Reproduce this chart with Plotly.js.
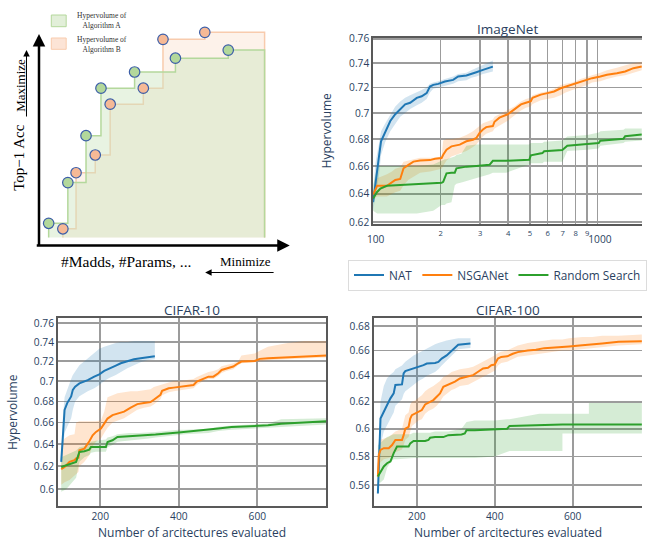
<!DOCTYPE html>
<html><head><meta charset="utf-8">
<script src="https://cdn.plot.ly/plotly-3.0.1.min.js"></script>
<style>html,body{margin:0;padding:0;background:#fff}#chart{width:647px;height:541px}</style>
</head><body><div id="chart"></div>
<script>
// ================= DATA =================
const methodNames = ['NAT', 'NSGANet', 'Random Search'];

// ---- ImageNet (log x, log y) ----
const imgNatX  = [100, 102.4, 106, 108.5, 113.4, 119.3, 125.6, 132.1, 139, 146.3, 156.6, 164.7, 173.3, 179.3, 185.5, 195.3, 209, 227.5, 239.4, 260.6, 274.2, 288.6, 308.9, 325, 342];
const imgNatY  = [0.634, 0.6485, 0.6657, 0.6783, 0.686, 0.6938, 0.699, 0.7028, 0.7067, 0.708, 0.7118, 0.7131, 0.7156, 0.7208, 0.7222, 0.723, 0.7249, 0.7262, 0.7289, 0.7297, 0.7308, 0.7324, 0.7343, 0.7357, 0.737];
const imgNatHi = [0.640, 0.662, 0.676, 0.686, 0.692, 0.699, 0.705, 0.709, 0.712, 0.714, 0.716, 0.718, 0.720, 0.723, 0.724, 0.725, 0.727, 0.729, 0.731, 0.732, 0.734, 0.736, 0.738, 0.740, 0.742];
const imgNatLo = [0.628, 0.638, 0.652, 0.668, 0.678, 0.686, 0.692, 0.697, 0.700, 0.703, 0.706, 0.708, 0.711, 0.716, 0.719, 0.720, 0.721, 0.723, 0.725, 0.726, 0.728, 0.729, 0.731, 0.732, 0.733];

const imgNsgaX  = [100, 104.2, 115.3, 121.4, 125.6, 132.1, 136.7, 143.8, 151.3, 162, 179.3, 188.7, 202, 205.4, 212.5, 223.6, 243.5, 260.6, 278.9, 288.6, 298.5, 308.9, 319.5, 342, 347.8, 365.9, 398.4, 426.5, 456.4, 480.2, 505.2, 513.8, 559.5, 598.8, 641, 686.1, 721.9, 772.7, 841.3, 900.2, 947.1, 1031, 1104, 1222, 1330, 1448, 1577];
const imgNsgaY  = [0.6393, 0.6456, 0.6456, 0.6485, 0.6498, 0.6505, 0.6583, 0.6608, 0.6632, 0.664, 0.6643, 0.6653, 0.6658, 0.6683, 0.672, 0.6745, 0.6758, 0.6783, 0.6795, 0.6808, 0.6847, 0.6873, 0.6891, 0.6899, 0.6932, 0.6964, 0.699, 0.7028, 0.7067, 0.708, 0.7092, 0.7118, 0.7144, 0.7156, 0.7169, 0.7195, 0.7208, 0.7222, 0.7249, 0.7262, 0.7276, 0.7289, 0.7303, 0.7316, 0.733, 0.7357, 0.737];
const imgNsgaHi = [0.641, 0.651, 0.654, 0.656, 0.658, 0.659, 0.663, 0.664, 0.665, 0.666, 0.666, 0.666, 0.667, 0.679, 0.680, 0.680, 0.681, 0.683, 0.686, 0.688, 0.690, 0.692, 0.693, 0.695, 0.697, 0.699, 0.702, 0.705, 0.709, 0.711, 0.712, 0.714, 0.716, 0.717, 0.719, 0.722, 0.723, 0.724, 0.727, 0.729, 0.730, 0.732, 0.734, 0.736, 0.738, 0.740, 0.741];
const imgNsgaLo = [0.636, 0.638, 0.638, 0.640, 0.641, 0.642, 0.646, 0.650, 0.652, 0.655, 0.656, 0.657, 0.658, 0.660, 0.664, 0.667, 0.669, 0.671, 0.674, 0.676, 0.679, 0.682, 0.684, 0.686, 0.688, 0.690, 0.694, 0.698, 0.702, 0.704, 0.705, 0.707, 0.710, 0.711, 0.712, 0.714, 0.716, 0.718, 0.720, 0.722, 0.724, 0.725, 0.727, 0.729, 0.730, 0.732, 0.734];

const imgRsX  = [100, 104.2, 107.8, 115.3, 132.1, 156.6, 185.5, 202, 205.4, 208.9, 212.5, 223.6, 231.3, 235.3, 247.6, 260.6, 288.6, 319.5, 330.5, 342, 391.6, 496.8, 505.2, 569.1, 578.9, 697.9, 734.3, 900.2, 1013.7, 1031, 1307.6, 1330, 1577];
const imgRsY  = [0.6366, 0.6412, 0.6437, 0.6456, 0.6461, 0.6468, 0.6473, 0.6478, 0.6485, 0.6522, 0.6546, 0.6551, 0.6551, 0.6583, 0.659, 0.6595, 0.66, 0.6603, 0.6608, 0.6638, 0.6638, 0.6645, 0.6678, 0.6695, 0.6708, 0.6718, 0.675, 0.6763, 0.677, 0.6788, 0.6803, 0.6821, 0.6834];
const imgRsHi = [0.646, 0.659, 0.660, 0.660, 0.660, 0.660, 0.661, 0.664, 0.664, 0.665, 0.665, 0.666, 0.667, 0.668, 0.669, 0.675, 0.676, 0.676, 0.676, 0.676, 0.676, 0.676, 0.677, 0.677, 0.678, 0.679, 0.682, 0.683, 0.685, 0.686, 0.687, 0.688, 0.688];
const imgRsLo = [0.628, 0.626, 0.626, 0.626, 0.626, 0.626, 0.628, 0.632, 0.632, 0.632, 0.633, 0.634, 0.646, 0.647, 0.648, 0.649, 0.651, 0.653, 0.654, 0.655, 0.655, 0.661, 0.662, 0.662, 0.663, 0.663, 0.671, 0.672, 0.673, 0.675, 0.677, 0.678, 0.679];

// ---- CIFAR-10 (linear x, log y) ----
const c10NatX  = [100.6, 104.8, 109.1, 115.8, 121.7, 125.9, 130.1, 136, 146.9, 159.6, 168, 184.8, 197.5, 210.1, 222.7, 239.6, 252.2, 269, 285.9, 302.7, 319.6, 339];
const c10NatY  = [0.6239, 0.6511, 0.6718, 0.6784, 0.6816, 0.6848, 0.6913, 0.6945, 0.6977, 0.6994, 0.701, 0.7044, 0.7068, 0.7102, 0.7122, 0.7156, 0.718, 0.7204, 0.7221, 0.7232, 0.7242, 0.7253];
const c10NatHi = [0.625, 0.665, 0.684, 0.692, 0.697, 0.702, 0.706, 0.710, 0.716, 0.720, 0.723, 0.728, 0.733, 0.735, 0.737, 0.739, 0.740, 0.740, 0.741, 0.741, 0.741, 0.741];
const c10NatLo = [0.622, 0.638, 0.650, 0.656, 0.660, 0.664, 0.672, 0.680, 0.685, 0.688, 0.690, 0.693, 0.696, 0.700, 0.703, 0.706, 0.709, 0.713, 0.716, 0.719, 0.721, 0.722];

const c10NsgaX  = [100.6, 109.1, 121.7, 134.4, 138.5, 144.4, 146.9, 159.6, 172.2, 180.6, 189.1, 201.7, 210.1, 218.5, 231.2, 243.8, 260.6, 277.5, 294.3, 311.2, 328, 336.4, 353.3, 357.5, 374.3, 387, 403.8, 416.4, 429.1, 437.5, 445.8, 462.7, 475.4, 488, 500.6, 509, 521.6, 538.5, 551.2, 559.5, 593.3, 606, 627, 677.5, 719.7, 776.8];
const c10NsgaY  = [0.6174, 0.6194, 0.6239, 0.6254, 0.6269, 0.6275, 0.6343, 0.6358, 0.6425, 0.648, 0.6511, 0.6542, 0.6588, 0.6636, 0.6669, 0.6685, 0.6702, 0.6741, 0.6774, 0.6784, 0.6793, 0.6816, 0.6865, 0.6903, 0.6929, 0.6935, 0.6945, 0.6955, 0.6961, 0.6961, 0.6994, 0.7027, 0.7044, 0.7044, 0.7078, 0.7112, 0.7129, 0.7146, 0.718, 0.7197, 0.7204, 0.7225, 0.7232, 0.7239, 0.7249, 0.726];
const c10NsgaHi = [0.640, 0.645, 0.648, 0.649, 0.660, 0.661, 0.661, 0.661, 0.661, 0.661, 0.661, 0.662, 0.670, 0.684, 0.686, 0.688, 0.689, 0.690, 0.690, 0.691, 0.692, 0.694, 0.696, 0.697, 0.699, 0.700, 0.700, 0.701, 0.702, 0.702, 0.704, 0.707, 0.709, 0.710, 0.712, 0.715, 0.716, 0.718, 0.720, 0.726, 0.728, 0.731, 0.735, 0.739, 0.741, 0.741];
const c10NsgaLo = [0.604, 0.606, 0.608, 0.612, 0.614, 0.615, 0.620, 0.624, 0.630, 0.638, 0.642, 0.645, 0.650, 0.655, 0.660, 0.662, 0.664, 0.668, 0.672, 0.674, 0.675, 0.677, 0.682, 0.686, 0.689, 0.690, 0.691, 0.692, 0.693, 0.693, 0.696, 0.700, 0.702, 0.702, 0.705, 0.708, 0.710, 0.712, 0.716, 0.718, 0.719, 0.720, 0.721, 0.722, 0.723, 0.724];

const c10RsX  = [100.6, 113.3, 125.9, 138.5, 146.9, 159.6, 172.2, 176.4, 189.1, 214.3, 218.5, 231.2, 243.8, 273.3, 298.5, 323.8, 340.6, 399.6, 416.4, 475.4, 500.6, 534.3, 584.8, 627, 660.6, 776];
const c10RsY  = [0.6194, 0.6209, 0.623, 0.6239, 0.6328, 0.6334, 0.6349, 0.6372, 0.6372, 0.6372, 0.6418, 0.6434, 0.6465, 0.6471, 0.6474, 0.648, 0.6486, 0.6505, 0.6511, 0.6526, 0.6542, 0.6557, 0.6566, 0.6572, 0.6588, 0.661];
const c10RsHi = [0.628, 0.630, 0.632, 0.634, 0.637, 0.638, 0.640, 0.642, 0.643, 0.644, 0.646, 0.647, 0.649, 0.650, 0.650, 0.651, 0.651, 0.653, 0.653, 0.654, 0.656, 0.657, 0.658, 0.659, 0.663, 0.664];
const c10RsLo = [0.598, 0.600, 0.605, 0.610, 0.624, 0.628, 0.630, 0.632, 0.633, 0.633, 0.637, 0.639, 0.642, 0.643, 0.644, 0.645, 0.646, 0.648, 0.649, 0.650, 0.652, 0.653, 0.654, 0.655, 0.656, 0.658];

// ---- CIFAR-100 (linear x, log y) ----
const c100NatX  = [100, 102.4, 106.7, 115.2, 123.6, 132.2, 140.6, 144.9, 161.9, 166.1, 170.4, 178.9, 191.6, 204.3, 217.1, 225.6, 246.8, 255.3, 263.8, 276.5, 289.2, 302, 306.2, 337.7];
const c100NatY  = [0.5544, 0.5788, 0.6075, 0.6125, 0.6175, 0.6226, 0.6264, 0.6328, 0.6333, 0.6418, 0.6436, 0.6444, 0.6457, 0.647, 0.6483, 0.6496, 0.6501, 0.6509, 0.6535, 0.6561, 0.66, 0.6642, 0.6647, 0.6656];
const c100NatHi = [0.556, 0.590, 0.620, 0.632, 0.638, 0.641, 0.643, 0.645, 0.648, 0.650, 0.651, 0.653, 0.656, 0.658, 0.660, 0.662, 0.665, 0.666, 0.667, 0.668, 0.669, 0.670, 0.670, 0.670];
const c100NatLo = [0.553, 0.568, 0.588, 0.598, 0.603, 0.608, 0.612, 0.617, 0.622, 0.626, 0.628, 0.630, 0.633, 0.636, 0.638, 0.640, 0.643, 0.645, 0.648, 0.652, 0.656, 0.660, 0.661, 0.662];

const c100NsgaX  = [100, 102.4, 106.7, 115.2, 127.9, 136.4, 144.9, 161.9, 166.1, 170.4, 178.9, 183.1, 187.3, 195.8, 204.3, 212.8, 221.3, 229.8, 242.5, 251, 259.5, 268, 280.8, 289.2, 297.8, 310.5, 331.7, 344.5, 357.2, 369.9, 382.7, 391.2, 399.7, 408.2, 416.6, 431.9, 446.4, 459.1, 484.6, 505.8, 527, 548.3, 573.8, 590.7, 624.7, 650.2, 675.7, 718.1, 777.6];
const c100NsgaY  = [0.566, 0.5812, 0.5847, 0.5859, 0.5859, 0.5882, 0.5918, 0.5918, 0.5953, 0.60, 0.6013, 0.6075, 0.61, 0.6113, 0.6125, 0.6138, 0.618, 0.6195, 0.6213, 0.6238, 0.6264, 0.6315, 0.6333, 0.6341, 0.6354, 0.6379, 0.6392, 0.6405, 0.6431, 0.6457, 0.6462, 0.6483, 0.6488, 0.6535, 0.6548, 0.6553, 0.6574, 0.6587, 0.66, 0.6606, 0.6619, 0.6622, 0.6628, 0.6633, 0.6642, 0.6647, 0.6656, 0.667, 0.6675];
const c100NsgaHi = [0.572, 0.590, 0.592, 0.593, 0.594, 0.596, 0.598, 0.600, 0.606, 0.610, 0.612, 0.618, 0.620, 0.621, 0.623, 0.625, 0.628, 0.630, 0.632, 0.634, 0.636, 0.639, 0.641, 0.643, 0.644, 0.645, 0.646, 0.647, 0.649, 0.651, 0.653, 0.655, 0.656, 0.658, 0.659, 0.660, 0.662, 0.664, 0.666, 0.667, 0.668, 0.669, 0.669, 0.670, 0.671, 0.671, 0.672, 0.672, 0.673];
const c100NsgaLo = [0.561, 0.573, 0.576, 0.578, 0.579, 0.580, 0.583, 0.585, 0.588, 0.592, 0.594, 0.598, 0.602, 0.604, 0.606, 0.607, 0.611, 0.613, 0.615, 0.617, 0.620, 0.624, 0.627, 0.629, 0.630, 0.632, 0.633, 0.635, 0.637, 0.639, 0.641, 0.643, 0.644, 0.648, 0.650, 0.651, 0.653, 0.655, 0.656, 0.657, 0.658, 0.659, 0.660, 0.660, 0.661, 0.662, 0.663, 0.664, 0.665];

const c100RsX  = [100, 106.7, 115.2, 123.6, 132.2, 140.6, 149.1, 178.9, 183.1, 191.6, 221.3, 229.8, 234.1, 246.8, 268, 280.8, 314.7, 323.2, 327.5, 348.7, 399.7, 431.9, 437.9, 514.3, 522.8, 573.8, 573.8, 641.7, 641.7, 777.6];
const c100RsY  = [0.566, 0.5695, 0.573, 0.5753, 0.5765, 0.5824, 0.5871, 0.5871, 0.5894, 0.5911, 0.5911, 0.5918, 0.5934, 0.5939, 0.5939, 0.5953, 0.5958, 0.5965, 0.5988, 0.5988, 0.5995, 0.600, 0.602, 0.6025, 0.603, 0.603, 0.603, 0.603, 0.603, 0.603];
const c100RsHi = [0.588, 0.590, 0.592, 0.594, 0.595, 0.596, 0.596, 0.596, 0.596, 0.597, 0.597, 0.597, 0.597, 0.598, 0.598, 0.598, 0.600, 0.604, 0.605, 0.606, 0.606, 0.607, 0.607, 0.611, 0.611, 0.611, 0.611, 0.611, 0.619, 0.619];
const c100RsLo = [0.562, 0.562, 0.564, 0.572, 0.576, 0.578, 0.578, 0.579, 0.579, 0.579, 0.579, 0.579, 0.579, 0.579, 0.579, 0.579, 0.579, 0.579, 0.579, 0.579, 0.580, 0.583, 0.584, 0.584, 0.584, 0.584, 0.5965, 0.5965, 0.5965, 0.5965];

// ---- Schematic (hypervolume illustration; abstract units 0-100) ----
const algoACost = [4, 11.7, 19, 25, 38.5, 54.9, 76.1];
const algoAAcc  = [9.9, 28.5, 49.9, 71.6, 79, 85.3, 89];
const algoBCost = [9.7, 15, 22.7, 28.7, 42, 49.9, 66.7];
const algoBAcc  = [7.4, 33, 41.1, 64.3, 71.6, 93.9, 97.1];
const refCost = 90.7, refAcc = 3.4;

// ================= STYLE / BUILD =================
const W = 647, H = 541;
const px = v => v / W;
const py = v => 1 - v / H;
const colors = ['#1f77b4', '#ff7f0e', '#2ca02c'];
const bandColors = ['rgba(31,119,180,0.2)', 'rgba(255,127,14,0.2)', 'rgba(44,160,44,0.2)'];

const panels = [
  {xa: 'x',  ya: 'y',  series: [[imgNatX, imgNatY, imgNatHi, imgNatLo], [imgNsgaX, imgNsgaY, imgNsgaHi, imgNsgaLo], [imgRsX, imgRsY, imgRsHi, imgRsLo]], legend: true},
  {xa: 'x2', ya: 'y2', series: [[c10NatX, c10NatY, c10NatHi, c10NatLo], [c10NsgaX, c10NsgaY, c10NsgaHi, c10NsgaLo], [c10RsX, c10RsY, c10RsHi, c10RsLo]], legend: false},
  {xa: 'x3', ya: 'y3', series: [[c100NatX, c100NatY, c100NatHi, c100NatLo], [c100NsgaX, c100NsgaY, c100NsgaHi, c100NsgaLo], [c100RsX, c100RsY, c100RsHi, c100RsLo]], legend: false}
];

const traces = [];
function stair(cost, acc) {
  return {x: [cost[0], ...cost, refCost, refCost], y: [refAcc, ...acc, acc[acc.length - 1], refAcc]};
}
const sB = stair(algoBCost, algoBAcc), sA = stair(algoACost, algoAAcc);
traces.push({x: sB.x, y: sB.y, xaxis: 'x4', yaxis: 'y4', mode: 'lines', fill: 'toself',
  line: {shape: 'hv', color: '#f8cbad', width: 1.5}, fillcolor: 'rgba(248,203,173,0.25)', showlegend: false, hoverinfo: 'skip'});
traces.push({x: sA.x, y: sA.y, xaxis: 'x4', yaxis: 'y4', mode: 'lines', fill: 'toself',
  line: {shape: 'hv', color: '#b4d89c', width: 1.5}, fillcolor: 'rgba(205,228,190,0.45)', showlegend: false, hoverinfo: 'skip'});
traces.push({x: algoBCost, y: algoBAcc, xaxis: 'x4', yaxis: 'y4', mode: 'markers', showlegend: false,
  marker: {size: 10.5, color: '#f6b996', line: {color: '#3c5ea8', width: 1.2}}});
traces.push({x: algoACost, y: algoAAcc, xaxis: 'x4', yaxis: 'y4', mode: 'markers', showlegend: false,
  marker: {size: 10.5, color: '#b3d89b', line: {color: '#3c5ea8', width: 1.2}}});

panels.forEach(p => {
  p.series.forEach((s, i) => {
    traces.push({x: s[0], y: s[3], xaxis: p.xa, yaxis: p.ya, mode: 'lines', line: {width: 0, color: colors[i]},
      showlegend: false, hoverinfo: 'skip'});
    traces.push({x: s[0], y: s[2], xaxis: p.xa, yaxis: p.ya, mode: 'lines', line: {width: 0, color: colors[i]},
      fill: 'tonexty', fillcolor: bandColors[i], showlegend: false, hoverinfo: 'skip'});
  });
});
panels.forEach(p => {
  p.series.forEach((s, i) => {
    traces.push({x: s[0], y: s[1], xaxis: p.xa, yaxis: p.ya, mode: 'lines', name: methodNames[i],
      line: {color: colors[i], width: 2}, showlegend: p.legend});
  });
});

const tickFont = {size: 10.2, color: '#2a3f5f'};
function ax(extra) {
  return Object.assign({showline: true, linecolor: '#595959', linewidth: 1.8, mirror: true,
    showgrid: true, gridcolor: '#9c9c9c', gridwidth: 1.7, zeroline: false, ticks: '',
    tickfont: tickFont, fixedrange: true}, extra);
}

const font = '"Open Sans", verdana, arial, sans-serif';
const serif = '"Liberation Serif", "DejaVu Serif", serif';
function ann(text, x, y, size, extra) {
  return Object.assign({text: text, x: px(x), y: py(y), xref: 'paper', yref: 'paper', showarrow: false,
    xanchor: 'center', yanchor: 'middle', font: {size: size, color: '#2a3f5f', family: font}}, extra || {});
}
function sann(text, x, y, size, extra) {
  return Object.assign({text: text, x: px(x), y: py(y), xref: 'paper', yref: 'paper', showarrow: false,
    xanchor: 'center', yanchor: 'middle', font: {size: size, color: '#000', family: serif}}, extra || {});
}
function arrow(hx, hy, tx, ty, width, headsize) {
  return {x: px(hx), y: py(hy), xref: 'paper', yref: 'paper', text: '', showarrow: true,
    ax: tx - hx, ay: ty - hy, arrowhead: 2, arrowsize: headsize, arrowwidth: width, arrowcolor: '#000'};
}

const layout = {
  width: W, height: H,
  margin: {l: 0, r: 0, t: 0, b: 0},
  paper_bgcolor: '#fff', plot_bgcolor: '#fff',
  font: {family: font, color: '#2a3f5f'},
  showlegend: true,
  legend: {orientation: 'h', traceorder: 'normal', x: px(501.7), y: py(275), xanchor: 'center', yanchor: 'middle',
    bordercolor: '#dcdcdc', borderwidth: 1, bgcolor: '#fff', font: {size: 11.8, color: '#2a3f5f'}},
  xaxis:  ax({domain: [px(376), 1], anchor: 'y', type: 'log', range: [2, 3.199], dtick: 'D1'}),
  yaxis:  ax({domain: [py(224.3), py(37.7)], anchor: 'x', type: 'log', range: [-0.2086, -0.1186], dtick: 'L0.02', tick0: 0, mirror: false}),
  xaxis2: ax({domain: [px(58.3), px(329)], anchor: 'y2', range: [92, 776], dtick: 200, tick0: 0}),
  yaxis2: ax({domain: [py(505.7), py(317.7)], anchor: 'x2', type: 'log', range: [-0.2320, -0.1157], dtick: 'L0.02', tick0: 0}),
  xaxis3: ax({domain: [px(376.5), 1], anchor: 'y3', range: [89, 778], dtick: 200, tick0: 0}),
  yaxis3: ax({domain: [py(505.7), py(317.7)], anchor: 'x3', type: 'log', range: [-0.2626, -0.1631], dtick: 'L0.02', tick0: 0, mirror: false}),
  xaxis4: {domain: [px(39), px(290)], anchor: 'y4', range: [0, 100], visible: false, fixedrange: true},
  yaxis4: {domain: [py(245), py(26)], anchor: 'x4', range: [0, 100], visible: false, fixedrange: true},
  shapes: [
    {type: 'rect', xref: 'paper', yref: 'paper', x0: px(51.7), x1: px(66.7), y0: py(26.7), y1: py(15),
      fillcolor: '#e2efd9', line: {color: '#b4d89c', width: 1}},
    {type: 'rect', xref: 'paper', yref: 'paper', x0: px(51.7), x1: px(66.7), y0: py(49.3), y1: py(38),
      fillcolor: '#fce4d6', line: {color: '#f8cbad', width: 1}}
  ],
  annotations: [
    ann('ImageNet', 511.7, 29, 13.5),
    ann('CIFAR-10', 193.5, 310, 13.5),
    ann('CIFAR-100', 511.7, 310, 13.5),
    ann('Hypervolume', 330, 130, 12, {textangle: -90}),
    ann('Hypervolume', 13.3, 411.7, 12, {textangle: -90}),
    ann('Number of arcitectures evaluated', 193.3, 532.5, 12),
    ann('Number of arcitectures evaluated', 511.7, 532.5, 12),
    sann('Hypervolume of<br>Algorithm A', 103, 20, 7.5, {font: {size: 7.5, color: '#333', family: serif}}),
    sann('Hypervolume of<br>Algorithm B', 103, 44, 7.5, {font: {size: 7.5, color: '#333', family: serif}}),
    sann('Top−1 Acc', 19, 158, 15, {textangle: -90}),
    sann('Maximize', 20, 85, 13, {textangle: -90}),
    sann('#Madds, #Params, ...', 127, 261.7, 15.5),
    sann('Minimize', 247.5, 261.7, 13),
    arrow(39.3, 34, 39.3, 247, 2.5, 1),
    arrow(292, 245.5, 37.5, 245.5, 2.5, 1),
    arrow(26.7, 50, 26.7, 118, 1, 1.3),
    arrow(206.7, 272.5, 276.7, 272.5, 1, 1.3)
  ]
};

Plotly.newPlot('chart', traces, layout, {displayModeBar: false, staticPlot: true});
</script>
</body></html>
